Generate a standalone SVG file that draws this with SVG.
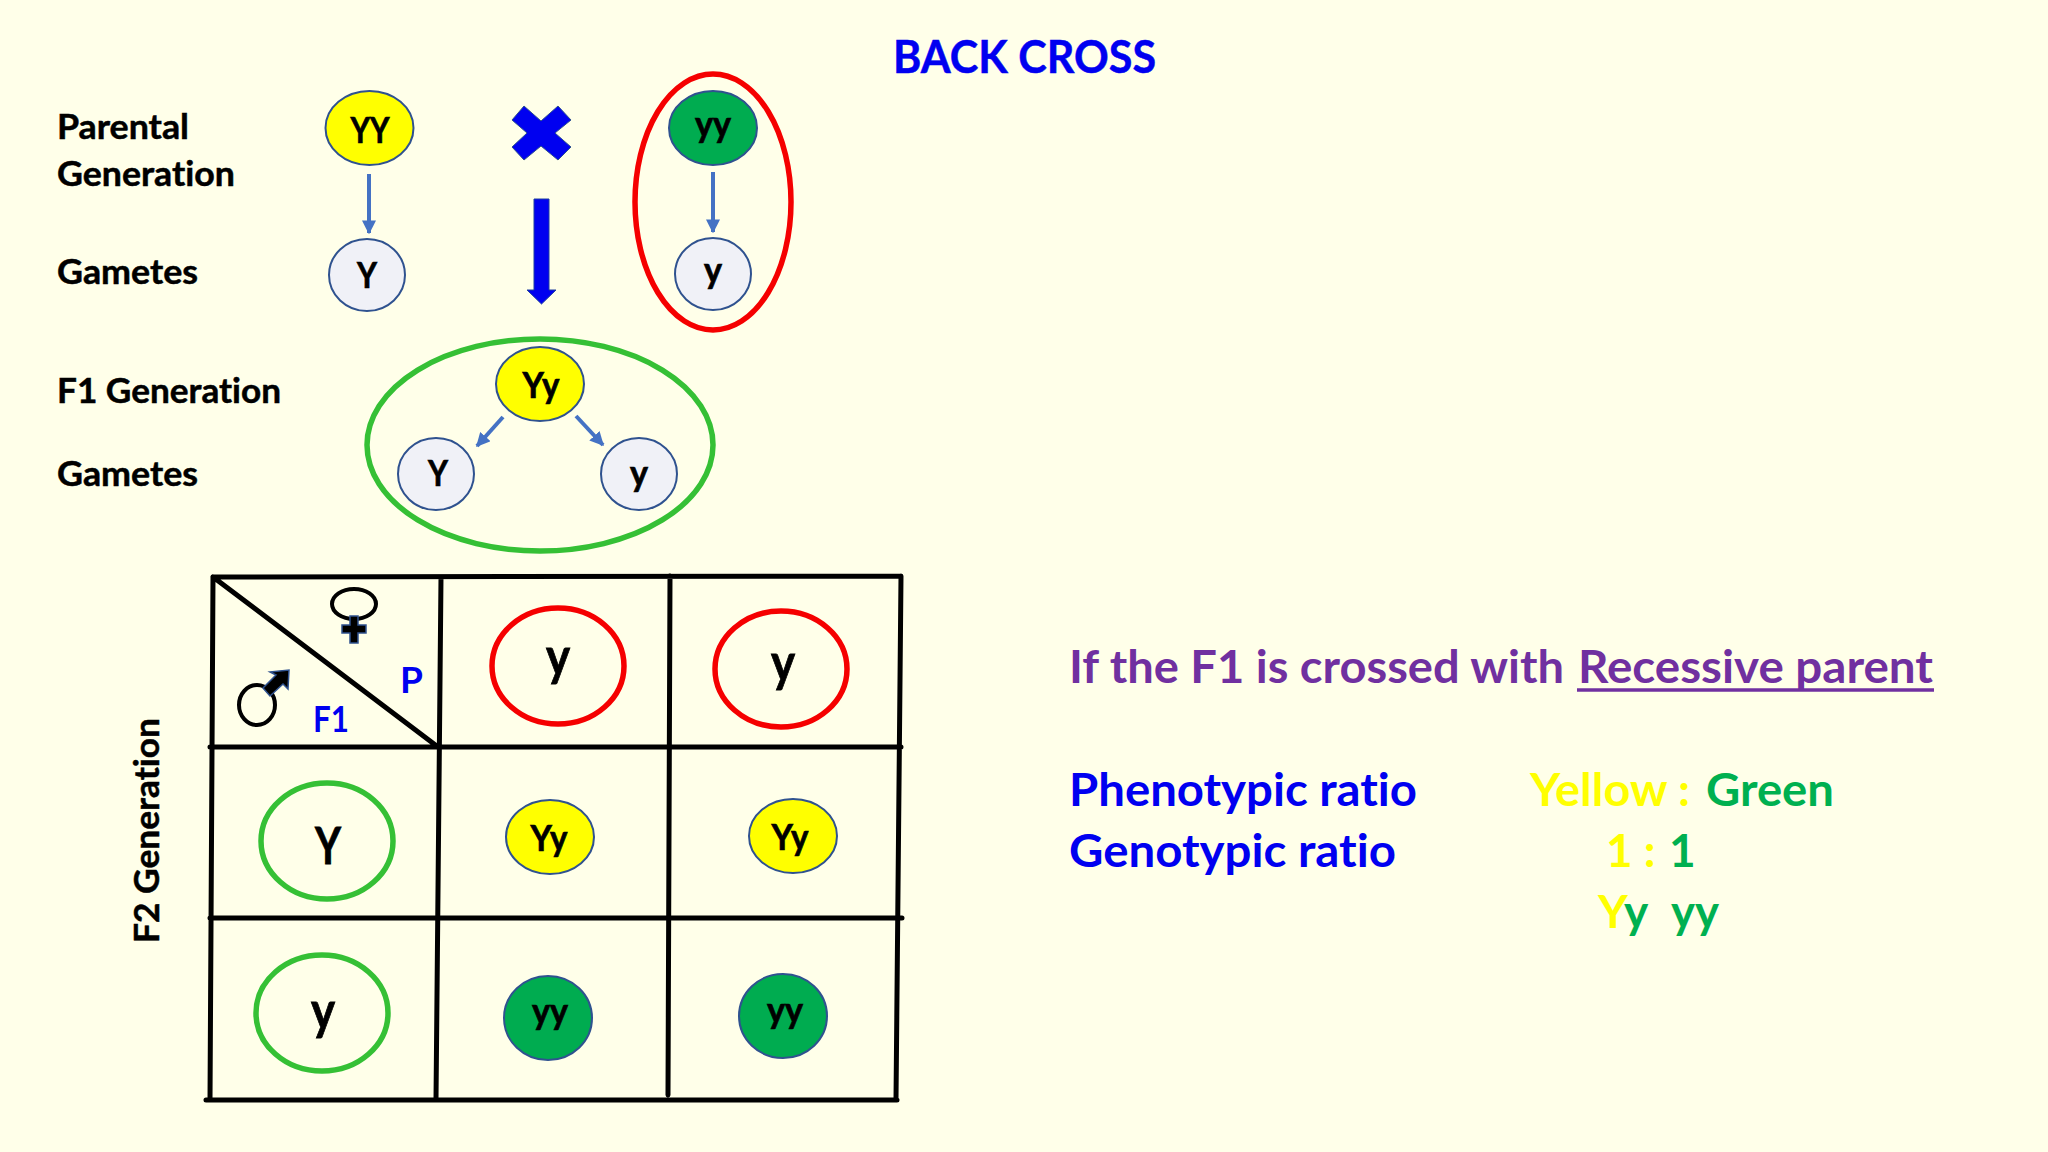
<svg xmlns="http://www.w3.org/2000/svg" width="2048" height="1152" viewBox="0 0 2048 1152">
<style>
text{font-family:Lato,"Open Sans","Liberation Sans",sans-serif;font-weight:700;fill:#000;font-variant-ligatures:none}
.lb{font-size:34px;stroke:#000;stroke-width:.5}
.n{font-size:37px;text-anchor:middle;stroke:#000;stroke-width:.7}
.big{font-size:52px;text-anchor:middle;stroke:#000;stroke-width:.8}
.blue{fill:#0000f0}
.pur{fill:#7030a0}
.yel{fill:#ffff00}
.grn{fill:#00b050}
.r{font-size:46px}
.yn{fill:#ffff00;stroke:#2f528f;stroke-width:2}
.gn{fill:#00ac50;stroke:#2f528f;stroke-width:2}
.wn{fill:#f0f1f7;stroke:#2f528f;stroke-width:2}
.rr{fill:none;stroke:#f50000;stroke-width:5.5}
.gr{fill:none;stroke:#35c035;stroke-width:5.5}
.th{fill:none;stroke:#4472c4;stroke-width:4;marker-end:url(#a)}
.gl{fill:none;stroke:#000;stroke-width:5;stroke-linecap:round}
</style>
<defs><marker id="a" viewBox="0 0 10 10" refX="9" refY="5" markerUnits="userSpaceOnUse" markerWidth="14" markerHeight="14" orient="auto"><path d="M0 0L10 5L0 10z" fill="#4472c4"/></marker></defs>
<rect width="2048" height="1152" fill="#ffffe9"/>
<g id="title"><text x="893" y="73" font-size="46" class="blue" stroke="#0000f0" stroke-width=".5" textLength="263" lengthAdjust="spacingAndGlyphs">BACK CROSS</text></g>
<g id="labels">
<text class="lb" x="57" y="139" textLength="132" lengthAdjust="spacingAndGlyphs">Parental</text>
<text class="lb" x="57" y="186" textLength="178" lengthAdjust="spacingAndGlyphs">Generation</text>
<text class="lb" x="57" y="284" textLength="141" lengthAdjust="spacingAndGlyphs">Gametes</text>
<text class="lb" x="57" y="403" textLength="224" lengthAdjust="spacingAndGlyphs">F1 Generation</text>
<text class="lb" x="57" y="486" textLength="141" lengthAdjust="spacingAndGlyphs">Gametes</text>
<text class="lb" transform="translate(159 943) rotate(-90)" textLength="225" lengthAdjust="spacingAndGlyphs">F2 Generation</text>
</g>
<g id="grid">
<path class="gl" d="M213 577L901 576M210 747L901 747M210 918L902 918M206 1100L897 1100M213 577L210 1100M441 577L436 1100M670 576L668 1095M901 576L896 1100M213 577L438 747"/>
</g>
<g id="connectors">
<path class="th" d="M369 174V233"/>
<path class="th" d="M713 172V232"/>
<path class="th" d="M503 417L477 446"/>
<path class="th" d="M576 416L603 445"/>
<path d="M534 199H549V290H556L541.500 304L527 290H534Z" fill="#0000f0" stroke="#1f3f9f" stroke-width="1"/>
</g>
<g id="cross"><path d="M524 106L541 121L558 106L571 120L555 133L571 147L558 160L541 146L524 160L512 147L527 133L512 120Z" fill="#0000f0" stroke="#2f528f" stroke-width="1"/></g>
<g id="parent-YY"><ellipse class="yn" cx="369.500" cy="128" rx="44" ry="37"/><text class="n" x="370" y="143" textLength="39" lengthAdjust="spacingAndGlyphs">YY</text></g>
<g id="parent-yy"><ellipse class="gn" cx="713" cy="128" rx="44" ry="37"/><text class="n" x="713" y="137" textLength="36" lengthAdjust="spacingAndGlyphs">yy</text></g>
<g id="gamete-Y"><ellipse class="wn" cx="367" cy="275" rx="38" ry="36"/><text class="n" x="367" y="288" textLength="20" lengthAdjust="spacingAndGlyphs">Y</text></g>
<g id="gamete-y"><ellipse class="wn" cx="713" cy="274" rx="38" ry="36"/><text class="n" x="713" y="283" textLength="18" lengthAdjust="spacingAndGlyphs">y</text></g>
<g id="recessive-ring"><ellipse class="rr" cx="713" cy="202" rx="78" ry="128"/></g>
<g id="f1-ring"><ellipse class="gr" cx="540" cy="445" rx="173" ry="106"/></g>
<g id="f1-Yy"><ellipse class="yn" cx="540" cy="384" rx="44" ry="37"/><text class="n" x="541" y="398" textLength="37" lengthAdjust="spacingAndGlyphs">Yy</text></g>
<g id="f1-gamete-Y"><ellipse class="wn" cx="436" cy="474" rx="38" ry="36"/><text class="n" x="438" y="486" textLength="20" lengthAdjust="spacingAndGlyphs">Y</text></g>
<g id="f1-gamete-y"><ellipse class="wn" cx="639" cy="474" rx="38" ry="36"/><text class="n" x="639" y="486" textLength="18" lengthAdjust="spacingAndGlyphs">y</text></g>
<g id="female"><ellipse cx="354" cy="604" rx="22" ry="15" fill="none" stroke="#000" stroke-width="4"/><path d="M350 616H358V625H366V633H358V643H350V633H342V625H350Z" fill="#000" stroke="#2f528f" stroke-width="1.500"/></g>
<g id="male"><ellipse cx="257" cy="705" rx="18" ry="20" fill="none" stroke="#000" stroke-width="4"/><path d="M263 688L276 675L270 672L289 670L288 689L283 684L270 696Z" fill="#000" stroke="#2f528f" stroke-width="1.500"/></g>
<g id="corner-labels"><text class="blue" x="400" y="693" font-size="37">P</text><text class="blue" x="313" y="732" font-size="37" textLength="36" lengthAdjust="spacingAndGlyphs">F1</text></g>
<g id="h1"><ellipse class="rr" cx="558" cy="666" rx="66" ry="58"/><text class="big" x="558" y="675" textLength="24" lengthAdjust="spacingAndGlyphs">y</text></g>
<g id="h2"><ellipse class="rr" cx="781" cy="669" rx="66" ry="58"/><text class="big" x="783" y="681" textLength="24" lengthAdjust="spacingAndGlyphs">y</text></g>
<g id="r1"><ellipse class="gr" cx="327" cy="841" rx="66" ry="58"/><text class="big" x="328" y="864" textLength="26" lengthAdjust="spacingAndGlyphs">Y</text></g>
<g id="r2"><ellipse class="gr" cx="322" cy="1013" rx="66" ry="58"/><text class="big" x="323" y="1029" textLength="24" lengthAdjust="spacingAndGlyphs">y</text></g>
<g id="c11"><ellipse class="yn" cx="550" cy="837" rx="44" ry="37"/><text class="n" x="549" y="851" textLength="37" lengthAdjust="spacingAndGlyphs">Yy</text></g>
<g id="c12"><ellipse class="yn" cx="793" cy="836" rx="44" ry="37"/><text class="n" x="790" y="850" textLength="37" lengthAdjust="spacingAndGlyphs">Yy</text></g>
<g id="c21"><ellipse class="gn" cx="548" cy="1018" rx="44" ry="42"/><text class="n" x="550" y="1024" textLength="36" lengthAdjust="spacingAndGlyphs">yy</text></g>
<g id="c22"><ellipse class="gn" cx="783" cy="1016" rx="44" ry="42"/><text class="n" x="785" y="1023" textLength="36" lengthAdjust="spacingAndGlyphs">yy</text></g>
<g id="notes">
<text class="r pur" x="1069" y="683" textLength="495" lengthAdjust="spacingAndGlyphs">If the F1 is crossed with</text>
<text class="r pur" x="1578" y="683" textLength="355" lengthAdjust="spacingAndGlyphs">Recessive parent</text>
<path d="M1577 690H1934" stroke="#7030a0" stroke-width="3.500"/>
<text class="r blue" x="1069" y="806" textLength="348" lengthAdjust="spacingAndGlyphs">Phenotypic ratio</text>
<text class="r blue" x="1069" y="867" textLength="327" lengthAdjust="spacingAndGlyphs">Genotypic ratio</text>
<text class="r yel" x="1530" y="806" textLength="160" lengthAdjust="spacingAndGlyphs">Yellow :</text>
<text class="r grn" x="1706" y="806" textLength="128" lengthAdjust="spacingAndGlyphs">Green</text>
<text class="r yel" x="1606" y="867">1 :</text>
<text class="r grn" x="1669" y="867">1</text>
<text class="r yel" x="1598" y="928">Y</text>
<text class="r grn" x="1624" y="928">y</text>
<text class="r grn" x="1671" y="928" textLength="48" lengthAdjust="spacingAndGlyphs">yy</text>
</g>
</svg>
